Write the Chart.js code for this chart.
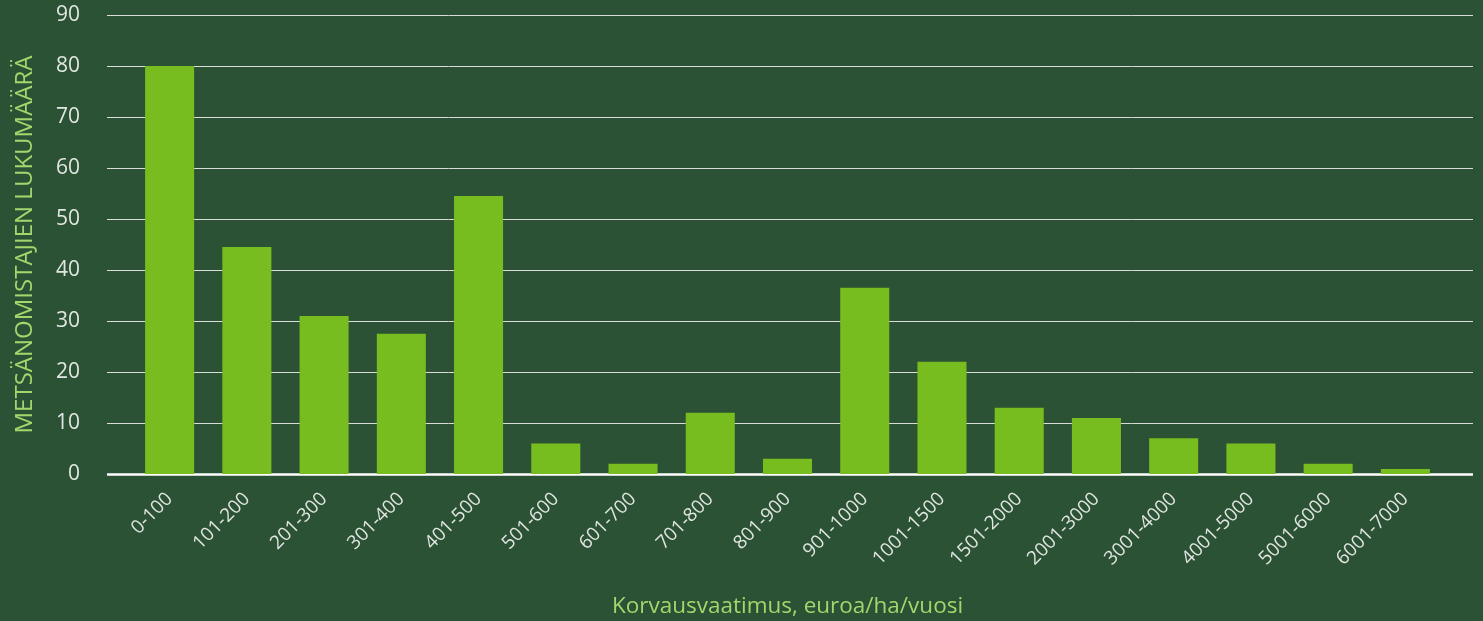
<!DOCTYPE html>
<html>
<head>
<meta charset="utf-8">
<script src="https://cdn.jsdelivr.net/npm/chart.js@4"></script>
<style>
  html, body { margin: 0; padding: 0; background: #2b5234; }
  #wrap { width: 1483px; height: 621px; }
</style>
</head>
<body>
<div id="wrap"><canvas id="chart" width="1483" height="621"></canvas></div>
<script>
// Luokat ja arvot luettu kuvasta
const categories = ['0-100', '101-200', '201-300', '301-400', '401-500', '501-600', '601-700',
    '701-800', '801-900', '901-1000', '1001-1500', '1501-2000', '2001-3000', '3001-4000',
    '4001-5000', '5001-6000', '6001-7000'];
const counts = [80, 44.5, 31, 27.5, 54.5, 6, 2, 12, 3, 36.5, 22, 13, 11, 7, 6, 2, 1];
const yTicks = [0, 10, 20, 30, 40, 50, 60, 70, 80, 90];

const fontFamily = '"Open Sans", "Noto Sans", sans-serif';

// Vaakaviivat piirretään hieman piirtoalueen yli, kuten alkuperäisessä
const gridPlugin = {
    id: 'wideGrid',
    beforeDatasetsDraw(chart) {
        const ctx = chart.ctx;
        const y = chart.scales.y;
        ctx.save();
        yTicks.forEach(v => {
            const py = Math.round(y.getPixelForValue(v));
            ctx.beginPath();
            ctx.strokeStyle = v === 0 ? '#ffffff' : '#d8ddd8';
            ctx.lineWidth = v === 0 ? 2.5 : 1;
            ctx.moveTo(107, py + 0.5);
            ctx.lineTo(1473, py + 0.5);
            ctx.stroke();
        });
        ctx.restore();
    }
};

new Chart(document.getElementById('chart'), {
    type: 'bar',
    data: {
        labels: categories,
        datasets: [{
            data: counts,
            backgroundColor: '#78bd20',
            barPercentage: 0.635,
            categoryPercentage: 1
        }]
    },
    options: {
        responsive: false,
        animation: false,
        layout: { padding: { top: 15, right: 39, bottom: 0, left: 0 } },
        plugins: {
            legend: { display: false },
            tooltip: { enabled: false }
        },
        scales: {
            x: {
                afterFit(scale) {
                    scale.height = 147;
                    scale.paddingLeft = 0;
                    scale.paddingRight = 0;
                },
                grid: { display: false, drawTicks: false },
                border: { display: false },
                ticks: {
                    color: '#e2e6e2',
                    font: { family: fontFamily, size: 19 },
                    minRotation: 45,
                    maxRotation: 45,
                    autoSkip: false,
                    padding: 14
                },
                title: {
                    display: true,
                    text: 'Korvausvaatimus, euroa/ha/vuosi',
                    color: '#a3d66c',
                    font: { family: fontFamily, size: 22.5 },
                    padding: { top: 0, bottom: 1 }
                }
            },
            y: {
                min: 0,
                max: 90,
                afterFit(scale) {
                    scale.width = 131;
                    scale.paddingTop = 0;
                    scale.paddingBottom = 0;
                },
                grid: { display: false, drawTicks: false },
                border: { display: false },
                ticks: {
                    stepSize: 10,
                    color: '#e2e6e2',
                    font: { family: fontFamily, size: 21 },
                    padding: 51
                },
                title: {
                    display: true,
                    text: 'METSÄNOMISTAJIEN LUKUMÄÄRÄ',
                    color: '#a3d66c',
                    font: { family: fontFamily, size: 24 },
                    padding: { top: 11, bottom: 0 }
                }
            }
        }
    },
    plugins: [gridPlugin]
});
</script>
</body>
</html>
